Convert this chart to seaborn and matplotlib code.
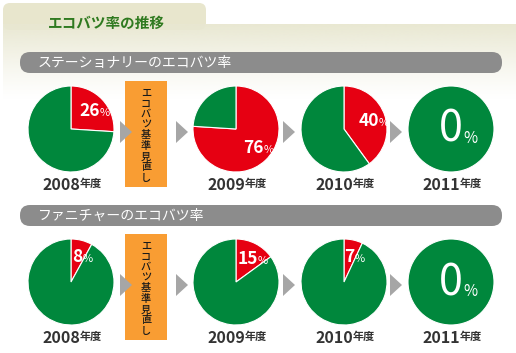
# エコバツ率の推移: pie-chart infographic recreated with seaborn / matplotlib

import numpy as np
import seaborn as sns
import matplotlib.pyplot as plt
from matplotlib.patches import FancyBboxPatch, Rectangle, Polygon

sns.set_style('white')
plt.rcParams['font.family'] = ['Noto Sans CJK JP', 'DejaVu Sans']

title = 'エコバツ率の推移'
years = ['2008', '2009', '2010', '2011']
year_suffix = '年度'
sections = ['ステーショナリーのエコバツ率', 'ファニチャーのエコバツ率']
stationery = [26, 76, 40, 0]
furniture = [8, 15, 7, 0]
review_label = 'エコバツ基準見直し'

RED = '#e60012'
GREEN = '#00873c'
GRAY_BAR = '#8c8c8c'
ARROW = '#a6a6a6'
ORANGE = '#f99d33'
BEIGE = '#e8e6cd'

W, H = 516, 353
fig = plt.figure(figsize=(W / 100, H / 100), dpi=100)
ax = fig.add_axes([0, 0, 1, 1])


def Y(y):
    # pixel row (from top) -> data y
    return H - y


# background: tab + fading band
ax.add_patch(FancyBboxPatch((3, Y(30)), 203, 27, boxstyle='round,pad=0,rounding_size=7',
                            facecolor=BEIGE, edgecolor='none', zorder=0))
grad = np.zeros((100, 1, 4))
base = np.array([0xe9, 0xe8, 0xd2]) / 255
grad[:, 0, :3] = base
grad[:, 0, 3] = np.linspace(1, 0, 100) ** 1.2
ax.imshow(grad, extent=(3, W, Y(100), Y(24)), aspect='auto', zorder=0)
ax.text(48, Y(23), title, fontsize=10.5, fontweight='bold', color='#2f7a1f',
        va='center', ha='left', zorder=3)

pie_x = [71, 236, 344, 451]
R = 43
row_cy = [129, 282]
arrow_x = [120, 176, 283, 390]


def draw_row(cy, name, values):
    # section header bar
    ax.add_patch(FancyBboxPatch((20, Y(cy - 56)), 482, 21,
                                boxstyle='round,pad=0,rounding_size=10',
                                facecolor=GRAY_BAR, edgecolor='none', zorder=1))
    ax.text(38, Y(cy - 66.5), name, fontsize=10, color='white', va='center',
            ha='left', zorder=3)

    # review box
    ax.add_patch(Rectangle((125, Y(cy + 58)), 42, 106, facecolor=ORANGE,
                           edgecolor='none', zorder=1))
    for i, ch in enumerate(review_label):
        ax.text(146, Y(cy - 36 + i * 10.6), ch, fontsize=7.3, fontweight='medium',
                color='#1a1a1a', ha='center', va='center', zorder=3)

    # arrows
    for ax0 in arrow_x:
        ay = cy + 3
        ax.add_patch(Polygon([(ax0, Y(ay - 11)), (ax0, Y(ay + 11)), (ax0 + 12, Y(ay))],
                             closed=True, facecolor=ARROW, edgecolor='none', zorder=2))

    for cx, year, v in zip(pie_x, years, values):
        ax.pie([v, 100 - v], colors=[RED, GREEN], startangle=90, counterclock=False,
               center=(cx, Y(cy)), radius=R,
               wedgeprops=dict(edgecolor='white', linewidth=0.8))
        if v == 0:
            num = ax.text(cx, Y(cy + 1), '0', fontsize=31, color='white',
                          ha='center', va='center', zorder=4)
            ax.annotate('%', xy=(1, 0.12), xycoords=num, fontsize=11, color='white',
                        ha='left', va='bottom', zorder=4)
        else:
            mid = np.deg2rad(90 - v * 3.6 / 2)
            lx = cx + 0.6 * R * np.cos(mid)
            ly = Y(cy) + 0.6 * R * np.sin(mid)
            num = ax.text(lx, ly, str(v), fontsize=12.5, fontweight='bold',
                          color='white', ha='center', va='center', zorder=4)
            ax.annotate('%', xy=(1, 0.12), xycoords=num, fontsize=8,
                        color='white', ha='left', va='bottom', zorder=4)
        yr = ax.text(cx + 9, Y(cy + 56), year, fontsize=11.5, fontweight='bold',
                     color='#333333', ha='right', va='center', zorder=4)
        ax.annotate(year_suffix, xy=(1, 0.18), xycoords=yr, fontsize=8,
                    fontweight='bold', color='#333333', ha='left', va='bottom', zorder=4)


draw_row(row_cy[0], sections[0], stationery)
draw_row(row_cy[1], sections[1], furniture)

ax.set_xlim(0, W)
ax.set_ylim(0, H)
ax.set_aspect('auto')
ax.axis('off')
fig.savefig('out.png', dpi=100)
